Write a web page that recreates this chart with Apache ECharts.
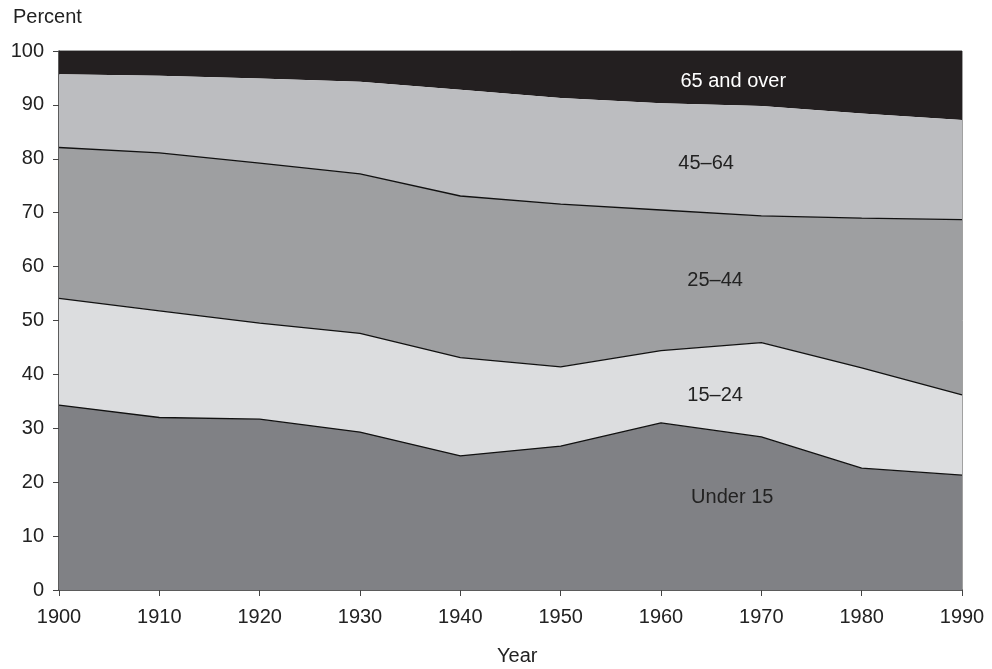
<!DOCTYPE html>
<html>
<head>
<meta charset="utf-8">
<script src="https://cdn.jsdelivr.net/npm/echarts@6/dist/echarts.min.js"></script>
<style>
html,body{margin:0;padding:0;background:#fff;}
#chart{width:992px;height:669px;}
</style>
</head>
<body>
<div id="chart"></div>
<script>
const years = ['1900', '1910', '1920', '1930', '1940', '1950', '1960', '1970', '1980', '1990'];
const under15 = [34.3, 32.0, 31.7, 29.3, 24.9, 26.7, 31.0, 28.4, 22.6, 21.3];
const age15to24 = [19.8, 19.8, 17.8, 18.3, 18.2, 14.7, 13.4, 17.5, 18.6, 14.9];
const age25to44 = [28.0, 29.3, 29.7, 29.6, 30.0, 30.2, 26.1, 23.5, 27.8, 32.5];
const age45to64 = [13.6, 14.3, 15.7, 17.1, 19.7, 19.7, 19.8, 20.4, 19.4, 18.5];
const age65plus = [4.3, 4.6, 5.1, 5.7, 7.2, 8.7, 9.7, 10.2, 11.6, 12.8];
const yTicks = [0, 10, 20, 30, 40, 50, 60, 70, 80, 90, 100];

const bands = [
  {name: 'Under 15', values: under15, color: '#808185', line: 1.3, label: [6.71, 17.1], text: '#222'},
  {name: '15\u201324', values: age15to24, color: '#dcdddf', line: 1.3, label: [6.54, 36.0], text: '#222'},
  {name: '25\u201344', values: age25to44, color: '#9e9fa1', line: 1.3, label: [6.54, 57.4], text: '#222'},
  {name: '45\u201364', values: age45to64, color: '#bcbdc0', line: 0, label: [6.45, 79.1], text: '#222'},
  {name: '65 and over', values: age65plus, color: '#231f20', line: 0, label: [6.72, 94.4], text: '#fff'}
];

const font = 'Liberation Sans, Arial, sans-serif';
const series = bands.map((b, i) => ({
  name: b.name,
  type: 'line',
  stack: 'total',
  z: 10 - i,
  symbol: 'none',
  data: b.values,
  lineStyle: {color: '#111', width: b.line || 0.01, opacity: b.line ? 1 : 0},
  areaStyle: {color: b.color, opacity: 1},
  silent: true
}));

const chart = echarts.init(document.getElementById('chart'));
chart.setOption({
  animation: false,
  backgroundColor: '#fff',
  grid: {left: 59, right: 30, top: 51, bottom: 79, show: true, borderColor: '#444', borderWidth: 1, backgroundColor: 'transparent'},
  xAxis: {
    type: 'category', data: years, boundaryGap: false,
    axisLine: {lineStyle: {color: '#444', width: 1.5}},
    axisTick: {show: true, length: 6, alignWithLabel: true, lineStyle: {color: '#444'}},
    axisLabel: {color: '#222', fontSize: 20, fontFamily: font, margin: 17},
    splitLine: {show: false}
  },
  yAxis: {
    type: 'value', min: yTicks[0], max: yTicks[yTicks.length - 1], interval: 10,
    axisLine: {show: true, lineStyle: {color: '#444', width: 1.5}},
    axisTick: {show: true, length: 6, lineStyle: {color: '#444'}},
    axisLabel: {color: '#222', fontSize: 20, fontFamily: font, margin: 15},
    splitLine: {show: false}
  },
  series: series
});

const labelGraphics = bands.map(b => {
  const x0 = chart.convertToPixel({gridIndex: 0}, [0, 0])[0];
  const step = chart.convertToPixel({gridIndex: 0}, [1, 0])[0] - x0;
  const px = x0 + step * b.label[0];
  const py = chart.convertToPixel({yAxisIndex: 0}, b.label[1]);
  return {type: 'text', x: px, y: py, z: 100,
    style: {text: b.name, fontSize: 20, fontFamily: font, fill: b.text, align: 'center', verticalAlign: 'middle'}};
});

chart.setOption({
  graphic: [
    {type: 'text', left: 13, top: 7, style: {text: 'Percent', fontSize: 20, fontFamily: font, fill: '#222'}},
    {type: 'text', left: 497, top: 646, style: {text: 'Year', fontSize: 20, fontFamily: font, fill: '#222'}}
  ].concat(labelGraphics)
});
</script>
</body>
</html>
